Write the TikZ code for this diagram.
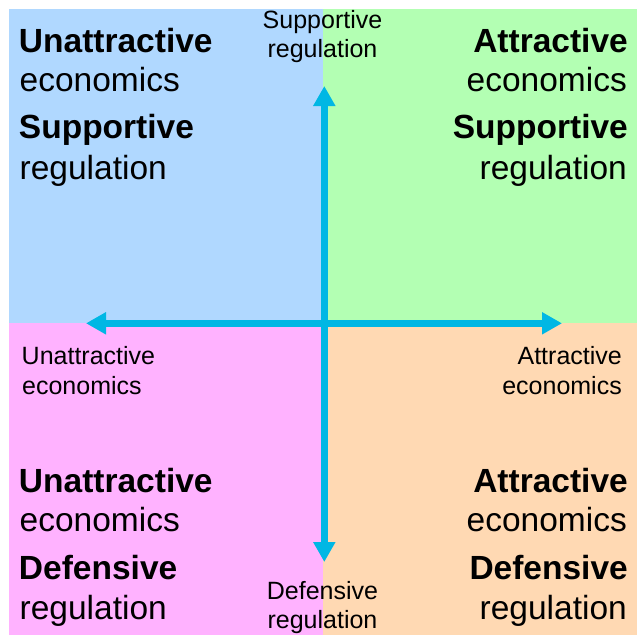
\documentclass[tikz,border=0pt]{standalone}
\usepackage{fontspec}
\setmainfont{Liberation Sans}
\usetikzlibrary{arrows.meta}
\definecolor{qblue}{RGB}{176,216,255}
\definecolor{qgreen}{RGB}{179,255,179}
\definecolor{qpink}{RGB}{255,178,255}
\definecolor{qpeach}{RGB}{255,217,179}
\definecolor{axiscol}{RGB}{0,183,228}
\tikzset{
  bigb/.style={inner sep=0pt, font=\fontsize{33.5}{40}\selectfont\bfseries},
  bigr/.style={inner sep=0pt, font=\fontsize{33.5}{40}\selectfont},
  smalltxt/.style={inner sep=0pt, font=\fontsize{25}{30}\selectfont},
  axis/.style={line width=7pt, draw=axiscol,
    {Triangle[length=20pt,width=21pt,fill=axiscol]}-{Triangle[length=20pt,width=21pt,fill=axiscol]}}
}
\begin{document}
\begin{tikzpicture}[x=1pt,y=-1pt]
\useasboundingbox (0,0) rectangle (637,635);
% quadrants
\fill[qblue]  (9,9) rectangle (323.3,323.3);
\fill[qgreen] (323.3,9) rectangle (636.5,323.3);
\fill[qpink]  (9,323.3) rectangle (323.3,635);
\fill[qpeach] (323.3,323.3) rectangle (636.5,635);
% axes
\coordinate (L) at (86,323.3);
\coordinate (R) at (562,323.3);
\coordinate (T) at (324.3,86);
\coordinate (B) at (324.3,562);
\draw[axis] (L) -- (R);
\draw[axis] (B) -- (T);
% top-left
\node[bigb,anchor=base west] (tl1) at (18.8,52) {Unattractive};
\node[bigr,anchor=base west] (tl2) at (19.5,91.5) {economics};
\node[bigb,anchor=base west] (tl3) at (18.8,138) {Supportive};
\node[bigr,anchor=base west] (tl4) at (19.5,179.5) {regulation};
% top-right
\node[bigb,anchor=base east] (tr1) at (628,52) {Attractive};
\node[bigr,anchor=base east] (tr2) at (627,91.5) {economics};
\node[bigb,anchor=base east] (tr3) at (628,138) {Supportive};
\node[bigr,anchor=base east] (tr4) at (627,179.5) {regulation};
% bottom-left
\node[bigb,anchor=base west] (bl1) at (18.8,492) {Unattractive};
\node[bigr,anchor=base west] (bl2) at (19.5,531.5) {economics};
\node[bigb,anchor=base west] (bl3) at (18.8,579) {Defensive};
\node[bigr,anchor=base west] (bl4) at (19.5,619.5) {regulation};
% bottom-right
\node[bigb,anchor=base east] (br1) at (628,492) {Attractive};
\node[bigr,anchor=base east] (br2) at (627,531.5) {economics};
\node[bigb,anchor=base east] (br3) at (628,579) {Defensive};
\node[bigr,anchor=base east] (br4) at (627,619.5) {regulation};
% axis labels
\node[smalltxt,anchor=base] (st1) at (322.5,28.5) {Supportive};
\node[smalltxt,anchor=base] (st2) at (322.5,57.5) {regulation};
\node[smalltxt,anchor=base] (sb1) at (322.5,599.5) {Defensive};
\node[smalltxt,anchor=base] (sb2) at (322.5,628.5) {regulation};
\node[smalltxt,anchor=base west] (sl1) at (21.5,364) {Unattractive};
\node[smalltxt,anchor=base west] (sl2) at (22,394) {economics};
\node[smalltxt,anchor=base east] (sr1) at (622,364) {Attractive};
\node[smalltxt,anchor=base east] (sr2) at (622,394) {economics};
\end{tikzpicture}
\end{document}
